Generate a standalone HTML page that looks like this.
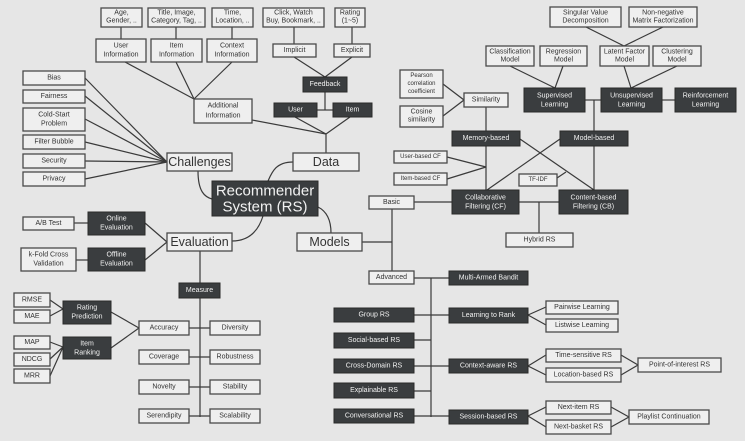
<!DOCTYPE html>
<html><head><meta charset="utf-8"><style>
html,body{margin:0;padding:0;background:#e6e6e6;}
svg{display:block;font-family:"Liberation Sans",sans-serif;}
.l{fill:#efefef;stroke:#4a4a4a;stroke-width:1.3}
.d{fill:#3a3d3f;stroke:#2a2a2a;stroke-width:1}
.t{font-size:7px;fill:#333;text-anchor:middle;dominant-baseline:central}
.w{font-size:7px;fill:#f2f2f2;text-anchor:middle;dominant-baseline:central}
.b{font-size:12.5px;fill:#333;text-anchor:middle;dominant-baseline:central}
line,path,polyline{stroke:#3a3a3a;stroke-width:1.2;fill:none}
</style></head><body>
<svg width="745" height="441" viewBox="0 0 745 441">
<rect width="745" height="441" fill="#e6e6e6"/>
<!-- connectors -->
<g>
<line x1="121" y1="27" x2="121" y2="39"/><line x1="176" y1="27" x2="176" y2="39"/><line x1="232" y1="27" x2="232" y2="39"/>
<line x1="294" y1="27" x2="294" y2="44"/><line x1="352" y1="27" x2="352" y2="44"/>
<line x1="294" y1="57" x2="325" y2="77"/><line x1="352" y1="57" x2="325" y2="77"/>
<line x1="325" y1="92" x2="325" y2="110"/><line x1="317" y1="110" x2="333" y2="110"/>
<line x1="125" y1="62" x2="194" y2="99"/><line x1="176" y1="62" x2="194" y2="99"/><line x1="232" y1="62" x2="194" y2="99"/>
<line x1="252" y1="120" x2="326" y2="134"/><line x1="295" y1="117" x2="326" y2="134"/><line x1="350" y1="117" x2="326" y2="134"/>
<line x1="326" y1="134" x2="326" y2="153"/>
<line x1="85" y1="78" x2="167" y2="162"/><line x1="85" y1="96" x2="167" y2="162"/><line x1="85" y1="119" x2="167" y2="162"/>
<line x1="85" y1="142" x2="167" y2="162"/><line x1="85" y1="161" x2="167" y2="162"/><line x1="85" y1="179" x2="167" y2="162"/>
<path d="M198 171 C198 192 205 197 212 199"/>
<path d="M293 162 C276 162 272 172 268 181"/>
<path d="M318 207 C328 212 331 222 331 233"/>
<path d="M263 216 C258 232 248 241 232 241"/>
<line x1="74" y1="223" x2="88" y2="223"/><line x1="76" y1="260" x2="88" y2="260"/>
<line x1="145" y1="223" x2="167" y2="242"/><line x1="145" y1="260" x2="167" y2="242"/>
<line x1="200" y1="251" x2="200" y2="417"/>
<line x1="189" y1="328" x2="210" y2="328"/><line x1="189" y1="357" x2="210" y2="357"/><line x1="189" y1="387" x2="210" y2="387"/><line x1="189" y1="416" x2="210" y2="416"/>
<line x1="111" y1="312" x2="139" y2="328"/><line x1="111" y1="348" x2="139" y2="328"/>
<line x1="50" y1="300" x2="63" y2="309"/><line x1="50" y1="316" x2="63" y2="309"/>
<line x1="50" y1="342" x2="63" y2="347"/><line x1="50" y1="359" x2="63" y2="347"/><line x1="50" y1="376" x2="63" y2="347"/>
<line x1="362" y1="242" x2="392" y2="242"/><line x1="392" y1="209" x2="392" y2="271"/>
<line x1="414" y1="202" x2="452" y2="202"/><line x1="519" y1="202" x2="559" y2="202"/><line x1="539" y1="202" x2="539" y2="233"/>
<line x1="486" y1="107" x2="486" y2="131"/><line x1="486" y1="146" x2="486" y2="190"/>
<line x1="443" y1="84" x2="464" y2="100"/><line x1="443" y1="116" x2="464" y2="100"/>
<line x1="447" y1="157" x2="486" y2="167"/><line x1="447" y1="179" x2="486" y2="167"/>
<line x1="520" y1="139" x2="594" y2="190"/><line x1="560" y1="139" x2="487" y2="190"/>
<line x1="557" y1="178" x2="566" y2="172"/>
<line x1="585" y1="100" x2="601" y2="100"/><line x1="662" y1="100" x2="675" y2="100"/>
<line x1="594" y1="100" x2="594" y2="131"/><line x1="594" y1="146" x2="594" y2="190"/>
<line x1="510" y1="66" x2="555" y2="88"/><line x1="563" y1="66" x2="555" y2="88"/>
<line x1="624" y1="66" x2="631" y2="88"/><line x1="677" y1="66" x2="631" y2="88"/>
<line x1="586" y1="27" x2="624" y2="46"/><line x1="663" y1="27" x2="624" y2="46"/>
<line x1="414" y1="278" x2="449" y2="278"/><line x1="431" y1="278" x2="431" y2="417"/>
<line x1="414" y1="315" x2="449" y2="315"/><line x1="414" y1="340" x2="431" y2="340"/><line x1="414" y1="366" x2="449" y2="366"/>
<line x1="414" y1="391" x2="431" y2="391"/><line x1="414" y1="416" x2="449" y2="416"/>
<line x1="528" y1="315" x2="546" y2="307"/><line x1="528" y1="315" x2="546" y2="325"/>
<line x1="528" y1="366" x2="546" y2="355"/><line x1="528" y1="366" x2="546" y2="375"/>
<line x1="621" y1="355" x2="638" y2="365"/><line x1="621" y1="375" x2="638" y2="365"/>
<line x1="528" y1="416" x2="546" y2="407"/><line x1="528" y1="416" x2="546" y2="427"/>
<line x1="611" y1="407" x2="629" y2="417"/><line x1="611" y1="427" x2="629" y2="417"/>
</g>
<!-- light boxes -->
<g>
<rect class="l" x="101" y="8" width="41" height="19"/><text class="t" x="121.5" y="13">Age,</text><text class="t" x="121.5" y="21">Gender, ..</text>
<rect class="l" x="148" y="8" width="57" height="19"/><text class="t" x="176.5" y="13">Title, Image,</text><text class="t" x="176.5" y="21">Category, Tag, ..</text>
<rect class="l" x="212" y="8" width="41" height="19"/><text class="t" x="232.5" y="13">Time,</text><text class="t" x="232.5" y="21">Location, ..</text>
<rect class="l" x="263" y="8" width="61" height="19"/><text class="t" x="293.5" y="13">Click, Watch</text><text class="t" x="293.5" y="21">Buy, Bookmark, ..</text>
<rect class="l" x="335" y="8" width="30" height="19"/><text class="t" x="350" y="13">Rating</text><text class="t" x="350" y="21">(1~5)</text>
<rect class="l" x="96" y="39" width="50" height="23"/><text class="t" x="121" y="46">User</text><text class="t" x="121" y="55">Information</text>
<rect class="l" x="151" y="39" width="51" height="23"/><text class="t" x="176.5" y="46">Item</text><text class="t" x="176.5" y="55">Information</text>
<rect class="l" x="207" y="39" width="50" height="23"/><text class="t" x="232" y="46">Context</text><text class="t" x="232" y="55">Information</text>
<rect class="l" x="273" y="44" width="43" height="13"/><text class="t" x="294.5" y="50.5">Implicit</text>
<rect class="l" x="334" y="44" width="36" height="13"/><text class="t" x="352" y="50.5">Explicit</text>
<rect class="l" x="194" y="99" width="58" height="24"/><text class="t" x="223" y="106">Additional</text><text class="t" x="223" y="116">Information</text>
<rect class="l" x="293" y="153" width="66" height="18"/><text class="b" x="326" y="162">Data</text>
<rect class="l" x="167" y="153" width="65" height="18"/><text class="b" x="199.5" y="162">Challenges</text>
<rect class="l" x="23" y="71" width="62" height="14"/><text class="t" x="54" y="78">Bias</text>
<rect class="l" x="23" y="90" width="62" height="13"/><text class="t" x="54" y="96.5">Fairness</text>
<rect class="l" x="23" y="108" width="62" height="23"/><text class="t" x="54" y="115">Cold-Start</text><text class="t" x="54" y="124">Problem</text>
<rect class="l" x="23" y="135" width="62" height="14"/><text class="t" x="54" y="142">Filter Bubble</text>
<rect class="l" x="23" y="154" width="62" height="14"/><text class="t" x="54" y="161">Security</text>
<rect class="l" x="23" y="172" width="62" height="14"/><text class="t" x="54" y="179">Privacy</text>
<rect class="l" x="23" y="217" width="51" height="13"/><text class="t" x="48.5" y="223.5">A/B Test</text>
<rect class="l" x="21" y="248" width="55" height="23"/><text class="t" x="48.5" y="255">k-Fold Cross</text><text class="t" x="48.5" y="264">Validation</text>
<rect class="l" x="167" y="233" width="65" height="18"/><text class="b" x="199.5" y="242">Evaluation</text>
<rect class="l" x="297" y="233" width="65" height="18"/><text class="b" x="329.5" y="242">Models</text>
<rect class="l" x="14" y="293" width="36" height="14"/><text class="t" x="32" y="300">RMSE</text>
<rect class="l" x="14" y="310" width="36" height="13"/><text class="t" x="32" y="316.5">MAE</text>
<rect class="l" x="14" y="336" width="36" height="13"/><text class="t" x="32" y="342.5">MAP</text>
<rect class="l" x="14" y="353" width="36" height="13"/><text class="t" x="32" y="359.5">NDCG</text>
<rect class="l" x="14" y="369" width="36" height="14"/><text class="t" x="32" y="376">MRR</text>
<rect class="l" x="139" y="321" width="50" height="14"/><text class="t" x="164" y="328">Accuracy</text>
<rect class="l" x="139" y="350" width="50" height="14"/><text class="t" x="164" y="357">Coverage</text>
<rect class="l" x="139" y="380" width="50" height="14"/><text class="t" x="164" y="387">Novelty</text>
<rect class="l" x="139" y="409" width="50" height="14"/><text class="t" x="164" y="416">Serendipity</text>
<rect class="l" x="210" y="321" width="50" height="14"/><text class="t" x="235" y="328">Diversity</text>
<rect class="l" x="210" y="350" width="50" height="14"/><text class="t" x="235" y="357">Robustness</text>
<rect class="l" x="210" y="380" width="50" height="14"/><text class="t" x="235" y="387">Stability</text>
<rect class="l" x="210" y="409" width="50" height="14"/><text class="t" x="235" y="416">Scalability</text>
<rect class="l" x="550" y="7" width="71" height="20"/><text class="t" x="585.5" y="13">Singular Value</text><text class="t" x="585.5" y="21">Decomposition</text>
<rect class="l" x="629" y="7" width="68" height="20"/><text class="t" x="663" y="13">Non-negative</text><text class="t" x="663" y="21">Matrix Factorization</text>
<rect class="l" x="486" y="46" width="48" height="20"/><text class="t" x="510" y="52">Classification</text><text class="t" x="510" y="60">Model</text>
<rect class="l" x="540" y="46" width="47" height="20"/><text class="t" x="563.5" y="52">Regression</text><text class="t" x="563.5" y="60">Model</text>
<rect class="l" x="600" y="46" width="49" height="20"/><text class="t" x="624.5" y="52">Latent Factor</text><text class="t" x="624.5" y="60">Model</text>
<rect class="l" x="653" y="46" width="48" height="20"/><text class="t" x="677" y="52">Clustering</text><text class="t" x="677" y="60">Model</text>
<rect class="l" x="400" y="70" width="43" height="28"/><text class="t" x="421.5" y="76" style="font-size:6px">Pearson</text><text class="t" x="421.5" y="84" style="font-size:6px">correlation</text><text class="t" x="421.5" y="92" style="font-size:6px">coefficient</text>
<rect class="l" x="400" y="106" width="43" height="21"/><text class="t" x="421.5" y="112">Cosine</text><text class="t" x="421.5" y="120">similarity</text>
<rect class="l" x="464" y="93" width="44" height="14"/><text class="t" x="486" y="100">Similarity</text>
<rect class="l" x="394" y="151" width="53" height="12"/><text class="t" x="420.5" y="157" style="font-size:6px">User-based CF</text>
<rect class="l" x="394" y="173" width="53" height="12"/><text class="t" x="420.5" y="179" style="font-size:6px">Item-based CF</text>
<rect class="l" x="519" y="174" width="38" height="12"/><text class="t" x="538" y="180" style="font-size:6px">TF-IDF</text>
<rect class="l" x="369" y="196" width="45" height="13"/><text class="t" x="391.5" y="202.5">Basic</text>
<rect class="l" x="506" y="233" width="67" height="14"/><text class="t" x="539.5" y="240">Hybrid RS</text>
<rect class="l" x="369" y="271" width="45" height="13"/><text class="t" x="391.5" y="277.5">Advanced</text>
<rect class="l" x="546" y="301" width="72" height="13"/><text class="t" x="582" y="307.5">Pairwise Learning</text>
<rect class="l" x="546" y="319" width="72" height="13"/><text class="t" x="582" y="325.5">Listwise Learning</text>
<rect class="l" x="546" y="349" width="75" height="13"/><text class="t" x="583.5" y="355.5">Time-sensitive RS</text>
<rect class="l" x="546" y="368" width="75" height="14"/><text class="t" x="583.5" y="375">Location-based RS</text>
<rect class="l" x="638" y="358" width="83" height="14"/><text class="t" x="679.5" y="365">Point-of-interest RS</text>
<rect class="l" x="546" y="401" width="65" height="13"/><text class="t" x="578.5" y="407.5">Next-item RS</text>
<rect class="l" x="546" y="420" width="65" height="14"/><text class="t" x="578.5" y="427">Next-basket RS</text>
<rect class="l" x="629" y="410" width="80" height="14"/><text class="t" x="669" y="417">Playlist Continuation</text>
</g>
<!-- dark boxes -->
<g>
<rect class="d" x="303" y="77" width="44" height="15"/><text class="w" x="325" y="84.5">Feedback</text>
<rect class="d" x="274" y="103" width="43" height="14"/><text class="w" x="295.5" y="110">User</text>
<rect class="d" x="333" y="103" width="39" height="14"/><text class="w" x="352.5" y="110">Item</text>
<rect class="d" x="212" y="181" width="106" height="35"/><text class="w" style="font-size:15px" x="265" y="191">Recommender</text><text class="w" style="font-size:15px" x="265" y="207">System (RS)</text>
<rect class="d" x="88" y="212" width="57" height="23"/><text class="w" x="116.5" y="219">Online</text><text class="w" x="116.5" y="228">Evaluation</text>
<rect class="d" x="88" y="248" width="57" height="23"/><text class="w" x="116.5" y="255">Offline</text><text class="w" x="116.5" y="264">Evaluation</text>
<rect class="d" x="179" y="283" width="41" height="15"/><text class="w" x="199.5" y="290.5">Measure</text>
<rect class="d" x="63" y="301" width="48" height="23"/><text class="w" x="87" y="308">Rating</text><text class="w" x="87" y="317">Prediction</text>
<rect class="d" x="63" y="337" width="48" height="22"/><text class="w" x="87" y="344">Item</text><text class="w" x="87" y="353">Ranking</text>
<rect class="d" x="524" y="88" width="61" height="24"/><text class="w" x="554.5" y="96">Supervised</text><text class="w" x="554.5" y="105">Learning</text>
<rect class="d" x="601" y="88" width="61" height="24"/><text class="w" x="631.5" y="96">Unsupervised</text><text class="w" x="631.5" y="105">Learning</text>
<rect class="d" x="675" y="88" width="61" height="24"/><text class="w" x="705.5" y="96">Reinforcement</text><text class="w" x="705.5" y="105">Learning</text>
<rect class="d" x="452" y="131" width="68" height="15"/><text class="w" x="486" y="138.5">Memory-based</text>
<rect class="d" x="560" y="131" width="68" height="15"/><text class="w" x="594" y="138.5">Model-based</text>
<rect class="d" x="452" y="190" width="67" height="24"/><text class="w" x="485.5" y="198">Collaborative</text><text class="w" x="485.5" y="207">Filtering (CF)</text>
<rect class="d" x="559" y="190" width="69" height="24"/><text class="w" x="593.5" y="198">Content-based</text><text class="w" x="593.5" y="207">Filtering (CB)</text>
<rect class="d" x="449" y="271" width="79" height="14"/><text class="w" x="488.5" y="278">Multi-Armed Bandit</text>
<rect class="d" x="449" y="308" width="79" height="15"/><text class="w" x="488.5" y="315.5">Learning to Rank</text>
<rect class="d" x="449" y="359" width="79" height="14"/><text class="w" x="488.5" y="366">Context-aware RS</text>
<rect class="d" x="449" y="410" width="79" height="14"/><text class="w" x="488.5" y="417">Session-based RS</text>
<rect class="d" x="334" y="308" width="80" height="14"/><text class="w" x="374" y="315">Group RS</text>
<rect class="d" x="334" y="333" width="80" height="15"/><text class="w" x="374" y="340.5">Social-based RS</text>
<rect class="d" x="334" y="359" width="80" height="14"/><text class="w" x="374" y="366">Cross-Domain RS</text>
<rect class="d" x="334" y="383" width="80" height="15"/><text class="w" x="374" y="390.5">Explainable RS</text>
<rect class="d" x="334" y="409" width="80" height="14"/><text class="w" x="374" y="416">Conversational RS</text>
</g>
</svg>
</body></html>
